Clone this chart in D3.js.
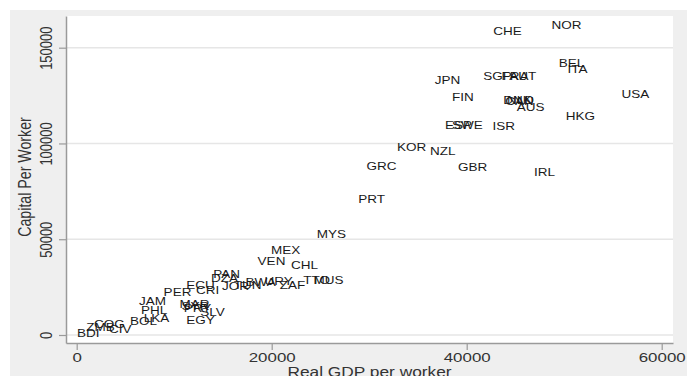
<!DOCTYPE html>
<html>
<head>
<meta charset="utf-8">
<script src="https://cdn.jsdelivr.net/npm/d3@7"></script>
<style>
  html, body { margin: 0; padding: 0; background: #ffffff; }
  svg { display: block; font-family: "Liberation Sans", Arial, Helvetica, sans-serif; }
</style>
</head>
<body>
<svg id="chart" width="687" height="376"></svg>
<script>
// Country codes with real GDP per worker (x) and capital per worker (y)
const countries = ["NOR","CHE","BEL","ITA","JPN","SGP","FRA","AUT","FIN","DNK","CAN","NLD","AUS","USA","HKG",
  "ESP","SWE","ISR","KOR","NZL","GRC","GBR","IRL","PRT","MYS","MEX","VEN","CHL","PAN","DZA","BWA","JOR","TUN",
  "URY","ZAF","TTO","MUS","ECU","CRI","PER","JAM","PHL","LKA","BOL","ZMB","COG","CIV","BDI","MAR","SYR","PRY",
  "SLV","EGY"];
const gdpPerWorker = [50240,44190,50750,51370,38030,43150,44950,45750,39600,45200,45410,45510,46550,57310,51670,
  39150,40080,43800,34340,37540,31270,40600,47980,30240,26130,21420,19980,23370,15370,15160,18860,16290,17530,
  20700,22140,24600,25830,12700,13430,10340,7780,7930,8190,6860,2440,3360,4470,1185,12080,12180,12380,
  13920,12700];
const capitalPerWorker = [161850,158700,142000,138900,133100,135200,135200,135200,124300,122700,122200,122700,119000,125800,114300,
  109600,109300,109100,98150,96060,88230,87710,85100,71000,52730,44380,38630,36550,31850,29760,27670,25580,26100,
  28190,26100,28710,28710,26100,23490,22450,17750,13050,8880,7310,4180,5740,3130,1050,16190,15140,14100,
  12010,7520];

const xTicks = [0, 20000, 40000, 60000];
const yTicks = [0, 50000, 100000, 150000];
const xTitle = "Real GDP per worker";
const yTitle = "Capital Per Worker";

const svg = d3.select("#chart");
const W = 687, H = 376;
const plot = { left: 66, right: 673, top: 16, bottom: 343 };
const SX = 1.3; // horizontal text stretch

// Graph region and plot region
svg.append("rect").attr("x", 10).attr("y", 10).attr("width", W - 10).attr("height", H - 10).attr("fill", "#efefef");
svg.append("rect").attr("x", plot.left).attr("y", plot.top)
  .attr("width", plot.right - plot.left).attr("height", plot.bottom - plot.top).attr("fill", "#ffffff");

const x = d3.scaleLinear().domain([-1097, 61159]).range([plot.left, plot.right]);
const y = d3.scaleLinear().domain([-4177, 166545]).range([plot.bottom, plot.top]);

// Horizontal grid lines
svg.append("g").selectAll("line").data(yTicks).join("line")
  .attr("x1", plot.left).attr("x2", plot.right)
  .attr("y1", d => y(d)).attr("y2", d => y(d))
  .attr("stroke", "#e6e6e6").attr("stroke-width", 1.6);

// Axes
const axisColor = "#9a9a9a";
const gx = svg.append("g").attr("transform", `translate(0,${plot.bottom})`)
  .call(d3.axisBottom(x).tickValues(xTicks).tickSize(7).tickSizeOuter(0).tickFormat(d3.format("d")));
gx.select(".domain").attr("stroke", axisColor).attr("stroke-width", 1.5);
gx.selectAll(".tick line").attr("stroke", axisColor).attr("stroke-width", 1.2);
gx.selectAll(".tick text")
  .attr("y", null).attr("dy", null)
  .attr("transform", `translate(0,19) scale(${SX},1)`)
  .attr("font-size", 13).attr("fill", "#333333").attr("text-anchor", "middle");

const gy = svg.append("g").attr("transform", `translate(${plot.left},0)`)
  .call(d3.axisLeft(y).tickValues(yTicks).tickSize(7).tickSizeOuter(0).tickFormat(d3.format("d")));
gy.select(".domain").attr("stroke", axisColor).attr("stroke-width", 1.5);
gy.selectAll(".tick line").attr("stroke", axisColor).attr("stroke-width", 1.2);
gy.selectAll(".tick text")
  .attr("x", null).attr("dy", null)
  .attr("transform", `translate(-14.5,0) scale(${SX},1) rotate(-90)`)
  .attr("font-size", 13).attr("fill", "#333333").attr("text-anchor", "middle");

// Axis titles
svg.append("text")
  .attr("transform", `translate(${(plot.left + plot.right) / 2},377) scale(1.22,1)`)
  .attr("text-anchor", "middle").attr("font-size", 14.2).attr("fill", "#333333")
  .text(xTitle);
svg.append("text")
  .attr("transform", `translate(30.5,177) scale(${SX},1) rotate(-90)`)
  .attr("text-anchor", "middle").attr("font-size", 14.2).attr("fill", "#333333")
  .text(yTitle);

// Country labels, centred on each observation
const rows = countries.map((c, i) => ({ code: c, gdp: gdpPerWorker[i], k: capitalPerWorker[i] }));
svg.append("g").selectAll("text").data(rows).join("text")
  .attr("transform", d => `translate(${x(d.gdp)},${y(d.k)}) scale(${SX},1)`)
  .attr("dy", "0.36em")
  .attr("text-anchor", "middle")
  .attr("font-size", 10.4)
  .attr("fill", "#1a1a1a")
  .text(d => d.code);
</script>
</body>
</html>
